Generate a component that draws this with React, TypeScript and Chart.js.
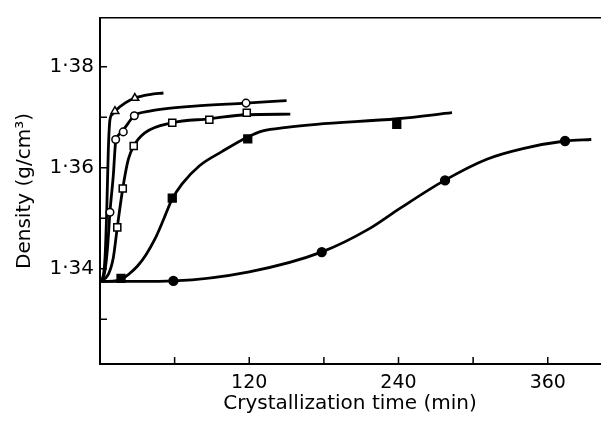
import React, { useEffect, useRef } from "react";
import { Chart, registerables } from "chart.js";

Chart.register(...registerables);

// Axis ranges and ticks
const X_MIN = 0;
const X_MAX = 402;
const Y_MIN = 1.32115;
const Y_MAX = 1.38965;
const xTickValues = [60, 120, 180, 240, 300, 360];
const xLabeledTicks = [120, 240, 360];
const yTickValues = [1.33, 1.34, 1.35, 1.36, 1.37, 1.38];
const yLabeledTicks = [1.34, 1.36, 1.38];

// Curve A (open triangles)
const curveA: [number, number][] = [
  [0, 1.3375], [2.5, 1.3385], [4, 1.342], [5.4, 1.3513], [6.7, 1.3636], [8, 1.3695],
  [10, 1.3706], [12, 1.3712], [20, 1.3728], [28, 1.3738], [40, 1.3745], [51, 1.3748],
];
const pointsA: [number, number][] = [[12, 1.3712], [28, 1.3738]];

// Curve B (open circles)
const curveB: [number, number][] = [
  [0, 1.3375], [3.5, 1.339], [6, 1.344], [8, 1.3512], [10.7, 1.3585], [12.6, 1.3652],
  [15, 1.3665], [18.7, 1.3675], [27.6, 1.3703], [40, 1.3712], [50, 1.3716], [76, 1.3722],
  [117, 1.3728], [150, 1.3733],
];
const pointsB: [number, number][] = [
  [8, 1.3512], [12.6, 1.3656], [18.7, 1.3671], [27.6, 1.3703], [117.4, 1.3728],
];

// Curve C (open squares)
const curveC: [number, number][] = [
  [0, 1.3375], [6.7, 1.3389], [10.7, 1.3422], [13.9, 1.3482], [18.3, 1.3559], [22.8, 1.3617],
  [27.1, 1.3643], [36, 1.3669], [58, 1.3689], [88, 1.3697], [118, 1.3705], [153, 1.3706],
];
const pointsC: [number, number][] = [
  [13.9, 1.3482], [18.3, 1.3559], [27.1, 1.3643], [58.1, 1.3689], [87.9, 1.3695], [118, 1.3709],
];

// Curve D (filled squares)
const curveD: [number, number][] = [
  [0, 1.3375], [12, 1.3376], [18, 1.338], [23, 1.3389], [30, 1.3405], [37, 1.3428],
  [44, 1.3458], [51, 1.3497], [57.6, 1.3536], [66, 1.3568], [80, 1.3604], [98, 1.3632],
  [118, 1.366], [131, 1.3673], [150, 1.368], [174, 1.3686], [239, 1.3697], [283, 1.3709],
];
const pointsD: [number, number][] = [[16.9, 1.3381], [58.1, 1.354], [118.8, 1.3657], [238.6, 1.3686]];

// Curve E (filled circles)
const curveE: [number, number][] = [
  [0, 1.3375], [30, 1.3375], [59, 1.3376], [120, 1.3394], [178, 1.3433], [217, 1.348],
  [239, 1.3516], [277, 1.3575], [311, 1.3617], [340, 1.3638], [374, 1.3653], [395, 1.3656],
];
const pointsE: [number, number][] = [[59, 1.3376], [178.3, 1.3433], [277.4, 1.3575], [373.9, 1.3653]];

const FONT = "'DejaVu Sans', sans-serif";
const INK = "#000";

const toXY = (arr: [number, number][]) => arr.map(([x, y]) => ({ x, y }));

const lineDs = (arr: [number, number][]) => ({
  type: "line" as const,
  data: toXY(arr),
  borderColor: INK,
  borderWidth: 2.8,
  pointRadius: 0,
  fill: false,
  cubicInterpolationMode: "monotone" as const,
  order: 2,
});

const markerDs = (arr: [number, number][], style: string, filled: boolean, radius: number) => ({
  type: "line" as const,
  data: toXY(arr),
  showLine: false,
  pointStyle: style,
  pointRadius: radius,
  pointBackgroundColor: filled ? INK : "#fff",
  pointBorderColor: INK,
  pointBorderWidth: 1.5,
  order: 1,
});

const inwardTicks = {
  id: "inwardTicks",
  afterDraw(chart: any) {
    const { ctx, chartArea, scales } = chart;
    ctx.save();
    ctx.strokeStyle = INK;
    ctx.lineWidth = 1.5;
    ctx.beginPath();
    for (const t of scales.x.ticks) {
      const px = scales.x.getPixelForValue(t.value);
      ctx.moveTo(px, chartArea.bottom);
      ctx.lineTo(px, chartArea.bottom - 7);
    }
    for (const t of scales.y.ticks) {
      const py = scales.y.getPixelForValue(t.value);
      ctx.moveTo(chartArea.left, py);
      ctx.lineTo(chartArea.left + 7, py);
    }
    ctx.stroke();
    ctx.restore();
  },
};

export default function App() {
  const ref = useRef<HTMLCanvasElement | null>(null);

  useEffect(() => {
    if (!ref.current) return;
    const chart = new Chart(ref.current, {
      type: "line",
      data: {
        datasets: [
          markerDs(pointsA, "triangle", false, 4.5),
          markerDs(pointsB, "circle", false, 3.8),
          markerDs(pointsC, "rect", false, 5),
          markerDs(pointsD, "rect", true, 5.5),
          markerDs(pointsE, "circle", true, 4.4),
          lineDs(curveA),
          lineDs(curveB),
          lineDs(curveC),
          lineDs(curveD),
          lineDs(curveE),
        ] as any,
      },
      options: {
        animation: false,
        responsive: true,
        maintainAspectRatio: false,
        layout: { padding: { left: 0, right: 11, top: 0, bottom: 0 } },
        plugins: { legend: { display: false }, tooltip: { enabled: false } },
        scales: {
          x: {
            type: "linear",
            position: "bottom",
            min: X_MIN,
            max: X_MAX,
            afterBuildTicks: (s: any) => {
              s.ticks = xTickValues.map((v) => ({ value: v }));
            },
            afterFit: (s: any) => {
              s.height = 58;
            },
            grid: { display: false, drawTicks: false },
            border: { display: true, color: INK, width: 2 },
            ticks: {
              autoSkip: false,
              maxRotation: 0,
              padding: 8,
              color: INK,
              font: { family: FONT, size: 19 },
              callback: (v: any) => (xLabeledTicks.includes(Number(v)) ? String(v) : ""),
            },
            title: {
              display: true,
              text: "Crystallization time (min)",
              color: INK,
              font: { family: FONT, size: 20 },
              padding: { top: 0, bottom: 6 },
            },
          },
          xTop: {
            type: "linear",
            position: "top",
            display: true,
            afterFit: (s: any) => {
              s.height = 14;
            },
            grid: { display: false, drawTicks: false },
            border: { display: true, color: INK, width: 1.5 },
            ticks: { display: false },
          },
          y: {
            type: "linear",
            position: "left",
            min: Y_MIN,
            max: Y_MAX,
            afterBuildTicks: (s: any) => {
              s.ticks = yTickValues.map((v) => ({ value: v }));
            },
            afterFit: (s: any) => {
              s.width = 100;
            },
            grid: { display: false, drawTicks: false },
            border: { display: true, color: INK, width: 2 },
            ticks: {
              autoSkip: false,
              padding: 6,
              color: INK,
              font: { family: FONT, size: 20 },
              callback: (v: any) =>
                yLabeledTicks.some((t) => Math.abs(t - Number(v)) < 1e-6)
                  ? Number(v).toFixed(2).replace(".", "·")
                  : "",
            },
            title: {
              display: true,
              text: "Density (g/cm³)",
              color: INK,
              font: { family: FONT, size: 20 },
              padding: { top: 13, bottom: 0 },
            },
          },
        },
      },
      plugins: [inwardTicks],
    } as any);
    return () => chart.destroy();
  }, []);

  return (
    <div style={{ position: "fixed", left: 0, top: 0, width: 611, height: 422, background: "#fff" }}>
      <canvas ref={ref} />
    </div>
  );
}
